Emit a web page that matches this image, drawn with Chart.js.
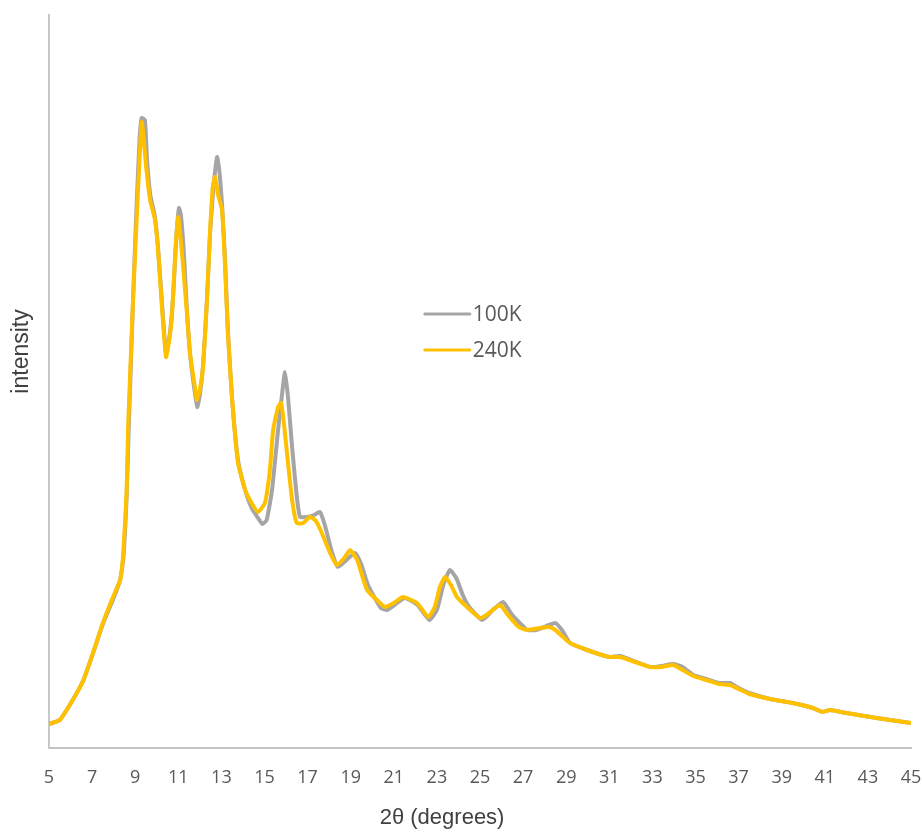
<!DOCTYPE html>
<html>
<head>
<meta charset="utf-8">
<script src="https://cdn.jsdelivr.net/npm/chart.js@4/dist/chart.umd.min.js"></script>
<style>
  html, body { margin: 0; padding: 0; background: #fff; }
  #wrap { width: 922px; height: 832px; }
</style>
</head>
<body>
<div id="wrap"><canvas id="xrd"></canvas></div>
<script>
// x ticks (2theta, degrees)
const xTicks = [5, 7, 9, 11, 13, 15, 17, 19, 21, 23, 25, 27, 29, 31, 33, 35, 37, 39, 41, 43, 45];
const xTitle = '2θ (degrees)';
const yTitle = 'intensity';

// 100K scan
const theta100 = [
  5.0, 5.5, 6.1, 6.6, 7.0, 7.5, 8.0, 8.3, 8.45, 8.6,
  8.7, 8.9, 9.05, 9.2, 9.3, 9.45, 9.55, 9.7, 9.9, 10.05,
  10.2, 10.3, 10.43, 10.6, 10.75, 10.9, 11.03, 11.12, 11.25, 11.4,
  11.55, 11.75, 11.88, 12.0, 12.15, 12.33, 12.47, 12.62, 12.8, 12.9,
  13.03, 13.17, 13.3, 13.5, 13.77, 14.1, 14.4, 14.7, 14.9, 15.1,
  15.35, 15.63, 15.8, 15.95, 16.09, 16.28, 16.5, 16.65, 16.97, 17.3,
  17.57, 17.8, 18.1, 18.4, 18.7, 19.2, 19.5, 19.8, 20.4, 20.7,
  21.5, 22.1, 22.65, 23.0, 23.3, 23.6, 23.9, 24.2, 24.5, 25.1,
  25.6, 26.07, 26.5, 27.2, 27.6, 28.2, 28.5, 28.8, 29.18, 29.97,
  31.0, 31.5, 32.9, 33.4, 33.96, 34.4, 34.9, 35.5, 36.1, 36.6,
  37.0, 37.5, 38.46, 39.5, 40.45, 40.9, 41.24, 42.0, 43.4, 45.0
];
const int100 = [
  24, 28, 48, 68, 92, 124, 150, 168, 190, 250,
  320, 448, 535, 608, 630, 628, 588, 553, 533, 503,
  458, 428, 395, 413, 448, 508, 540, 533, 498, 438,
  393, 358, 341, 353, 383, 448, 513, 558, 591, 578,
  543, 488, 418, 348, 288, 258, 240, 230, 224, 228,
  258, 318, 351, 376, 351, 301, 251, 231, 231, 233,
  236, 223, 198, 181, 186, 195, 183, 163, 140, 138,
  150, 143, 128, 138, 163, 178, 170, 153, 141, 128,
  138, 146, 133, 118, 118, 123, 125, 118, 105, 98,
  91, 92, 81, 82, 84, 81, 73, 69, 65, 65,
  60, 55, 49, 45, 40, 36, 38, 35, 30, 25
];

// 240K scan
const theta240 = [
  5.0, 5.5, 6.1, 6.6, 7.04, 7.5, 7.97, 8.3, 8.43, 8.6,
  8.67, 8.9, 9.08, 9.2, 9.3, 9.38, 9.5, 9.69, 9.92, 10.06,
  10.24, 10.43, 10.58, 10.7, 10.85, 10.94, 11.0, 11.2, 11.4, 11.54,
  11.77, 11.85, 12.0, 12.15, 12.33, 12.47, 12.6, 12.7, 12.85, 13.03,
  13.17, 13.3, 13.5, 13.77, 14.1, 14.4, 14.7, 15.02, 15.25, 15.4,
  15.63, 15.77, 15.9, 16.09, 16.3, 16.5, 16.8, 17.1, 17.35, 17.6,
  18.04, 18.36, 18.7, 18.97, 19.3, 19.76, 20.36, 20.59, 21.0, 21.43,
  22.08, 22.6, 22.9, 23.14, 23.38, 23.65, 23.93, 24.4, 25.0, 25.3,
  25.93, 26.3, 26.8, 27.2, 27.8, 28.2, 28.5, 28.8, 29.18, 29.97,
  31.0, 31.5, 32.9, 33.4, 33.96, 34.4, 34.9, 35.5, 36.1, 36.6,
  37.0, 37.5, 38.46, 39.5, 40.45, 40.9, 41.24, 42.0, 43.4, 45.0
];
const int240 = [
  24, 28, 48, 68, 95, 125, 151, 168, 190, 255,
  320, 448, 535, 588, 626, 613, 583, 548, 528, 498,
  441, 391, 408, 431, 491, 521, 531, 488, 435, 395,
  361, 348, 358, 381, 448, 515, 561, 571, 553, 538,
  481, 415, 348, 285, 258, 245, 236, 245, 278, 318,
  341, 345, 325, 285, 245, 225, 225, 231, 228, 218,
  195, 183, 190, 198, 188, 158, 145, 141, 145, 151,
  145, 131, 141, 161, 171, 163, 151, 141, 130, 133,
  143, 133, 121, 118, 120, 121, 118, 112, 105, 98,
  91, 91, 81, 81, 83, 78, 72, 68, 64, 63,
  59, 54, 49, 45, 40, 36, 38, 35, 30, 25
];

const toPoints = (xs, ys) => xs.map((x, i) => ({x: x, y: ys[i]}));

// legend inside the plot + axis titles (Excel places them off-centre)
const decorations = {
  id: 'decorations',
  afterDraw(chart) {
    const ctx = chart.ctx;
    const area = chart.chartArea;
    const w = area.right - area.left;
    const h = area.bottom - area.top;
    const x0 = area.left + w * 0.436;
    let y = area.top + 299;
    ctx.save();
    ctx.font = '21px "Open Sans"';
    ctx.textBaseline = 'middle';
    ctx.fillStyle = '#595959';
    chart.data.datasets.forEach(ds => {
      ctx.strokeStyle = ds.borderColor;
      ctx.lineWidth = 3;
      ctx.lineCap = 'round';
      ctx.beginPath();
      ctx.moveTo(x0, y);
      ctx.lineTo(x0 + 45, y);
      ctx.stroke();
      ctx.fillText(ds.label, x0 + 48, y + 1);
      y += 36;
    });

    ctx.fillStyle = '#404040';
    ctx.textAlign = 'center';
    ctx.font = '22px "Liberation Sans"';
    ctx.fillText(xTitle, area.left + w * 0.456, area.bottom + 70);

    ctx.translate(22, area.top + h * 0.459);
    ctx.rotate(-Math.PI / 2);
    ctx.font = '23px "Liberation Sans"';
    ctx.fillText(yTitle, 0, 0);
    ctx.restore();
  }
};

new Chart(document.getElementById('xrd'), {
  type: 'line',
  data: {
    datasets: [
      {
        label: '100K',
        data: toPoints(theta100, int100),
        borderColor: '#A5A5A5',
        borderWidth: 4,
        pointRadius: 0,
        tension: 0.15,
        order: 2
      },
      {
        label: '240K',
        data: toPoints(theta240, int240),
        borderColor: '#FFC000',
        borderWidth: 4,
        pointRadius: 0,
        tension: 0.15,
        order: 1
      }
    ]
  },
  options: {
    responsive: true,
    maintainAspectRatio: false,
    animation: false,
    layout: { padding: { top: 15, right: 11, left: 0, bottom: 0 } },
    plugins: {
      legend: { display: false },
      tooltip: { enabled: false }
    },
    scales: {
      x: {
        type: 'linear',
        min: 5,
        max: 45,
        afterBuildTicks: (scale) => { scale.ticks = xTicks.map(v => ({value: v})); },
        afterFit: (scale) => {
          scale.height = 84;
          scale.paddingLeft = 0;
          scale.paddingRight = 0;
        },
        grid: { display: false, drawTicks: false },
        border: { display: true, color: '#c4c4c4', width: 2 },
        ticks: {
          padding: 19,
          maxRotation: 0,
          autoSkip: false,
          color: '#595959',
          font: { family: '"Open Sans"', size: 18 }
        }
      },
      y: {
        min: 0,
        max: 733,
        afterFit: (scale) => { scale.width = 49; },
        grid: { display: false, drawTicks: false },
        border: { display: true, color: '#c8c8c8', width: 2 },
        ticks: { display: false }
      }
    }
  },
  plugins: [decorations]
});
</script>
</body>
</html>
